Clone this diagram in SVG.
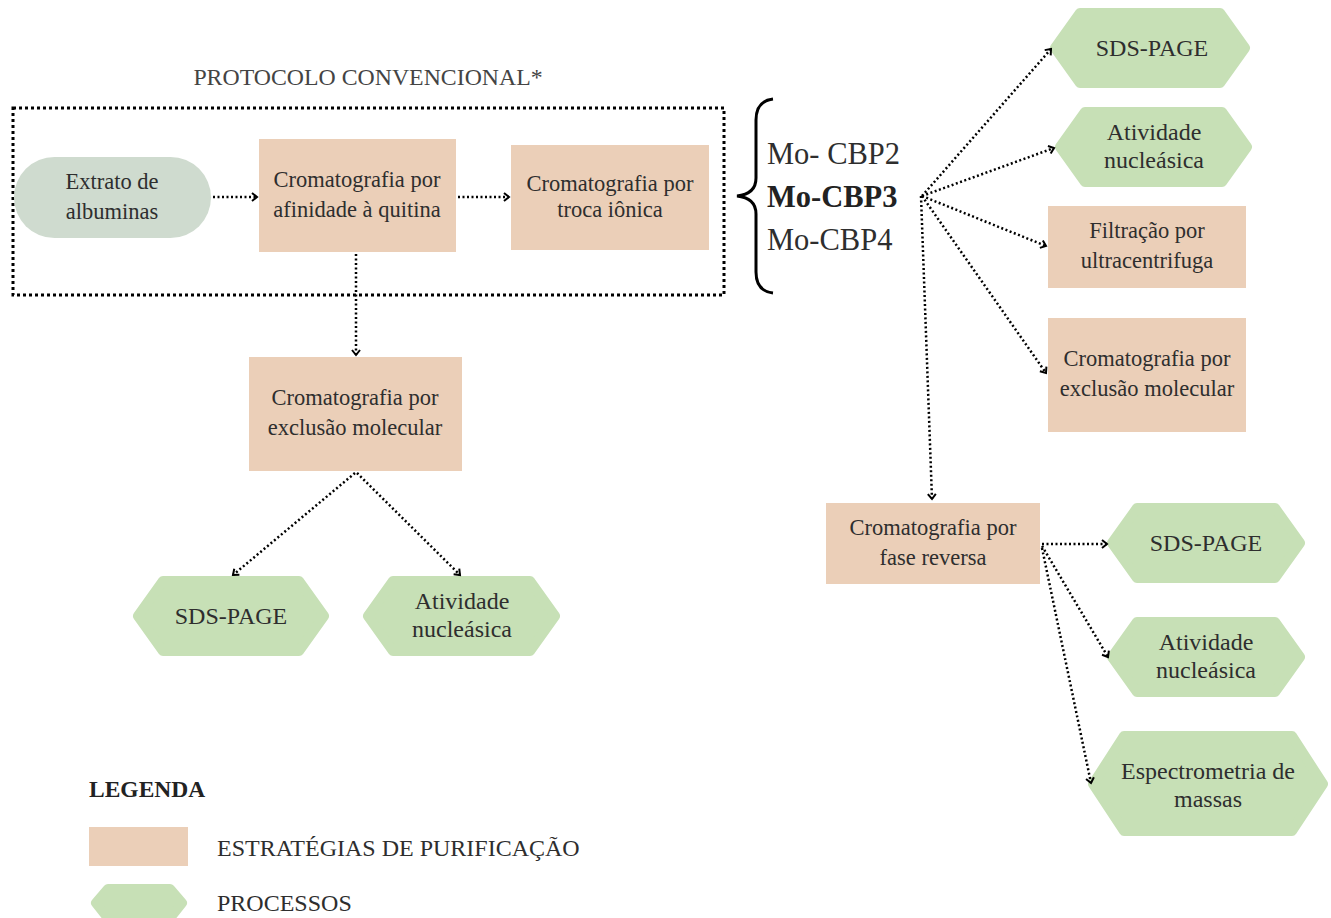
<svg xmlns="http://www.w3.org/2000/svg" width="1331" height="918" viewBox="0 0 1331 918">
<defs>
<marker id="arr" markerUnits="userSpaceOnUse" markerWidth="12" markerHeight="12" refX="6" refY="5" orient="auto" viewBox="0 0 12 10">
<path d="M1,1 L6,5 L1,9" fill="none" stroke="#000" stroke-width="2"/>
</marker>
<style>
text{font-family:"Liberation Serif","Times New Roman",serif;fill:#2e2e2e;text-anchor:middle}
.box{fill:#ebcfb8}
.hex{fill:#c7e0b6;stroke:#c7e0b6;stroke-width:10;stroke-linejoin:round}
.t{font-size:22.5px}
.h{font-size:24px}
.mo{font-size:30.5px;text-anchor:start}
.c{fill:none;stroke:#000;stroke-width:2.5;stroke-dasharray:2 2.5;marker-end:url(#arr)}
</style>
</defs>
<rect width="1331" height="918" fill="#fff"/>
<text x="368" y="85" style="font-size:23.8px;fill:#444">PROTOCOLO CONVENCIONAL*</text>
<rect x="13" y="108" width="711" height="187" fill="none" stroke="#000" stroke-width="3" stroke-dasharray="3 3"/>

<g id="extrato">
<rect x="14" y="157" width="197" height="81" rx="40.5" fill="#cfdbcf"/>
<text class="t" x="112" y="189">Extrato de</text>
<text class="t" x="112" y="219">albuminas</text>
</g>
<g id="afinidade">
<rect class="box" x="259" y="139" width="197" height="113"/>
<text class="t" x="357" y="187">Cromatografia por</text>
<text class="t" x="357" y="217">afinidade à quitina</text>
</g>
<g id="troca">
<rect class="box" x="511" y="145" width="198" height="105"/>
<text class="t" x="610" y="191">Cromatografia por</text>
<text class="t" x="610" y="217">troca iônica</text>
</g>
<g id="exclusao1">
<rect class="box" x="249" y="357" width="213" height="114"/>
<text class="t" x="355" y="405">Cromatografia por</text>
<text class="t" x="355" y="435">exclusão molecular</text>
</g>
<g id="sds1">
<polygon class="hex" points="138,616 163,581 299,581 324,616 299,651 163,651"/>
<text class="h" x="231" y="624">SDS-PAGE</text>
</g>
<g id="ativ1">
<polygon class="hex" points="368,616 393,581 530,581 555,616 530,651 393,651"/>
<text class="h" x="462" y="609">Atividade</text>
<text class="h" x="462" y="637">nucleásica</text>
</g>

<g id="brace">
<path d="M773,99 Q756,101 756,120 L756,178 Q756,194 737,196 Q756,198 756,214 L756,272 Q756,291 773,293" fill="none" stroke="#000" stroke-width="3"/>
<text class="mo" x="767" y="164">Mo- CBP2</text>
<text class="mo" x="767" y="207" font-weight="bold" style="fill:#222">Mo-CBP3</text>
<text class="mo" x="767" y="250">Mo-CBP4</text>
</g>

<g id="sds2">
<polygon class="hex" points="1055,48 1080,13 1220,13 1245,48 1220,83 1080,83"/>
<text class="h" x="1152" y="56">SDS-PAGE</text>
</g>
<g id="ativ2">
<polygon class="hex" points="1060,147 1085,112 1222,112 1247,147 1222,182 1085,182"/>
<text class="h" x="1154" y="140">Atividade</text>
<text class="h" x="1154" y="168">nucleásica</text>
</g>
<g id="filtracao">
<rect class="box" x="1048" y="206" width="198" height="82"/>
<text class="t" x="1147" y="238">Filtração por</text>
<text class="t" x="1147" y="268">ultracentrifuga</text>
</g>
<g id="exclusao2">
<rect class="box" x="1048" y="318" width="198" height="114"/>
<text class="t" x="1147" y="366">Cromatografia por</text>
<text class="t" x="1147" y="396">exclusão molecular</text>
</g>
<g id="reversa">
<rect class="box" x="826" y="503" width="214" height="81"/>
<text class="t" x="933" y="535">Cromatografia por</text>
<text class="t" x="933" y="565">fase reversa</text>
</g>
<g id="sds3">
<polygon class="hex" points="1112,543 1137,508 1275,508 1300,543 1275,578 1137,578"/>
<text class="h" x="1206" y="551">SDS-PAGE</text>
</g>
<g id="ativ3">
<polygon class="hex" points="1112,657 1137,622 1275,622 1300,657 1275,692 1137,692"/>
<text class="h" x="1206" y="650">Atividade</text>
<text class="h" x="1206" y="678">nucleásica</text>
</g>
<g id="espectro">
<polygon class="hex" points="1093,784 1124,736 1292,736 1323,784 1292,831 1124,831"/>
<text class="h" x="1208" y="779">Espectrometria de</text>
<text class="h" x="1208" y="807">massas</text>
</g>

<g id="legenda">
<text x="89" y="797" style="font-size:23.5px;font-weight:bold;text-anchor:start;fill:#222">LEGENDA</text>
<rect class="box" x="89" y="827" width="99" height="39"/>
<text x="217" y="856" style="font-size:24px;text-anchor:start">ESTRATÉGIAS DE PURIFICAÇÃO</text>
<polygon class="hex" points="96,903 108,889 170,889 182,903 170,918 108,918"/>
<text x="217" y="911" style="font-size:24px;text-anchor:start">PROCESSOS</text>
</g>

<g id="connectors">
<path class="c" d="M213,197 L257,197"/>
<path class="c" d="M458,197 L509,197"/>
<path class="c" d="M356,254 L356,355"/>
<path class="c" d="M355,473 L233,575"/>
<path class="c" d="M357,473 L460,575"/>
<path class="c" d="M922,196 L1051,49"/>
<path class="c" d="M922,196 L1054,148"/>
<path class="c" d="M922,196 L1046,246"/>
<path class="c" d="M922,196 L1046,373"/>
<path class="c" d="M921,196 L932,499"/>
<path class="c" d="M1042,544 L1107,544"/>
<path class="c" d="M1042,546 L1108,657"/>
<path class="c" d="M1042,548 L1091,783"/>
</g>
</svg>
